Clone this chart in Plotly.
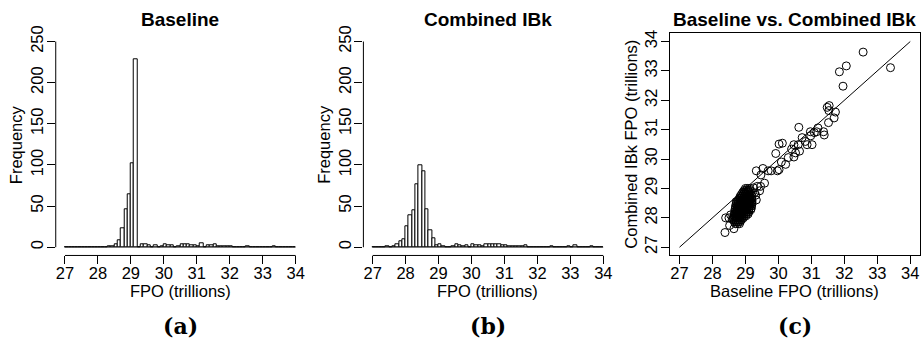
import plotly.graph_objects as go

# ---------------- data ----------------
bin_start = 27.0
bin_width = 0.1

# Baseline histogram counts, bins 27.0-27.1 ... 33.9-34.0
baseline_counts = [
    0, 0, 0, 0, 0, 0, 0, 0, 0, 0,        # 27.0 - 28.0
    0, 0, 0, 1, 1, 3, 8, 23, 46, 64,     # 28.0 - 29.0
    102, 228, 0, 4, 3, 2, 0, 2, 0, 1,    # 29.0 - 30.0
    4, 2, 2, 0, 1, 4, 3, 3, 2, 2,        # 30.0 - 31.0
    1, 5, 0, 2, 2, 3, 1, 1, 1, 1,        # 31.0 - 32.0
    1, 0, 0, 0, 0, 1, 0, 0, 0, 0,        # 32.0 - 33.0
    0, 0, 0, 1, 0, 0, 0, 0, 0, 0,        # 33.0 - 34.0
]

# Combined IBk histogram counts, same bins
combined_counts = [
    0, 0, 0, 0, 1, 0, 1, 3, 7, 10,       # 27.0 - 28.0
    26, 39, 45, 77, 100, 92, 46, 21, 11, 2,  # 28.0 - 29.0
    3, 1, 0, 0, 1, 4, 2, 1, 2, 0,        # 29.0 - 30.0
    3, 2, 2, 1, 4, 3, 3, 3, 3, 2,        # 30.0 - 31.0
    2, 1, 1, 1, 1, 1, 2, 0, 0, 0,        # 31.0 - 32.0
    0, 0, 0, 0, 1, 0, 0, 0, 0, 1,        # 32.0 - 33.0
    0, 2, 0, 0, 0, 0, 1, 0, 0, 0,        # 33.0 - 34.0
]

fpo_ticks = [27, 28, 29, 30, 31, 32, 33, 34]
freq_ticks = [0, 50, 100, 150, 200, 250]

# Scatter: scattered points (baseline, combined)
outlier_baseline = [32.57, 33.40, 32.06, 31.85, 31.96, 31.48, 31.54, 31.53, 31.73, 31.69,
                    31.52, 31.39, 31.37, 31.20, 31.16, 31.09, 30.97, 30.98, 31.02, 30.82,
                    30.72, 30.62, 30.87, 30.60, 30.47, 30.52, 30.64, 30.40, 30.47, 30.30,
                    30.22, 30.12, 30.02, 29.92, 30.09, 30.02, 29.97, 29.78, 29.69, 29.53,
                    29.33, 29.47, 29.58, 29.46, 29.36, 29.43, 29.31, 29.33, 28.72, 28.40,
                    28.38, 28.52, 28.65, 28.50, 29.25, 29.28, 28.60, 28.55]
outlier_combined = [33.64, 33.11, 33.17, 32.97, 32.48, 31.76, 31.82, 31.65, 31.60, 31.40,
                    31.24, 30.82, 30.93, 31.06, 30.93, 30.90, 30.93, 30.79, 30.49, 30.60,
                    30.73, 31.08, 30.49, 30.49, 30.49, 30.21, 30.27, 30.34, 30.07, 30.05,
                    29.82, 30.54, 30.51, 30.19, 29.90, 29.64, 29.60, 29.60, 29.60, 29.68,
                    29.60, 29.46, 29.18, 29.07, 29.07, 28.92, 28.77, 28.61, 28.55, 28.00,
                    27.50, 27.74, 27.63, 28.00, 29.02, 28.85, 27.95, 28.10]

# Dense cluster: rows of (combined value, baseline values)
cluster_rows = [
    (27.80, [28.70, 28.76, 28.82]),
    (27.87, [28.66, 28.72, 28.78, 28.84]),
    (27.93, [28.64, 28.70, 28.76, 28.82, 28.88]),
    (28.00, [28.64, 28.70, 28.76, 28.82, 28.88, 28.94]),
    (28.07, [28.66, 28.72, 28.78, 28.84, 28.90, 28.96, 29.02]),
    (28.13, [28.66, 28.72, 28.78, 28.84, 28.90, 28.96, 29.02, 29.08]),
    (28.20, [28.68, 28.74, 28.80, 28.86, 28.92, 28.98, 29.04, 29.10]),
    (28.27, [28.68, 28.74, 28.80, 28.86, 28.92, 28.98, 29.04, 29.10, 29.16]),
    (28.33, [28.70, 28.76, 28.82, 28.88, 28.94, 29.00, 29.06, 29.12, 29.18]),
    (28.40, [28.70, 28.76, 28.82, 28.88, 28.94, 29.00, 29.06, 29.12, 29.18]),
    (28.47, [28.72, 28.78, 28.84, 28.90, 28.96, 29.02, 29.08, 29.14, 29.20]),
    (28.53, [28.74, 28.80, 28.86, 28.92, 28.98, 29.04, 29.10, 29.16, 29.20]),
    (28.60, [28.78, 28.84, 28.90, 28.96, 29.02, 29.08, 29.14, 29.20]),
    (28.67, [28.82, 28.88, 28.94, 29.00, 29.06, 29.12, 29.18]),
    (28.73, [28.84, 28.90, 28.96, 29.02, 29.08, 29.14, 29.20]),
    (28.80, [28.88, 28.94, 29.00, 29.06, 29.12, 29.18]),
    (28.87, [28.92, 28.98, 29.04, 29.10, 29.16]),
    (28.93, [28.96, 29.02, 29.08, 29.14]),
    (29.00, [29.00, 29.06, 29.12]),
]

# ---------------- build ----------------
bin_centers = [bin_start + bin_width * (i + 0.5) for i in range(len(baseline_counts))]

scatter_x = list(outlier_baseline)
scatter_y = list(outlier_combined)
for yv, xs in cluster_rows:
    for xv in xs:
        scatter_x.append(xv)
        scatter_y.append(yv)

W, H = 921, 341
def px_x(p):
    return p / W
def px_y(p):
    return 1 - p / H

dom_a = [px_x(55.8), px_x(305.2)]
dom_b = [px_x(363.8), px_x(613.2)]
dom_c = [px_x(671.0), px_x(920.5)]
dom_y = [px_y(253.4), px_y(25.9)]

FONT = "Liberation Sans, Arial, sans-serif"
TICKFONT = dict(family=FONT, size=16.5, color="black")

fig = go.Figure()

fig.add_trace(go.Bar(x=bin_centers, y=baseline_counts, width=bin_width,
                     marker=dict(color="white", line=dict(color="black", width=1)),
                     xaxis="x", yaxis="y", showlegend=False, hoverinfo="skip"))
fig.add_trace(go.Bar(x=bin_centers, y=combined_counts, width=bin_width,
                     marker=dict(color="white", line=dict(color="black", width=1)),
                     xaxis="x2", yaxis="y2", showlegend=False, hoverinfo="skip"))
fig.add_trace(go.Scatter(x=[fpo_ticks[0], fpo_ticks[-1]], y=[fpo_ticks[0], fpo_ticks[-1]],
                         mode="lines", line=dict(color="black", width=1),
                         xaxis="x3", yaxis="y3", showlegend=False, hoverinfo="skip"))
fig.add_trace(go.Scatter(x=scatter_x, y=scatter_y, mode="markers",
                         marker=dict(symbol="circle-open", size=8,
                                     color="black", line=dict(color="black", width=1)),
                         xaxis="x3", yaxis="y3", showlegend=False, hoverinfo="skip"))

xr = [26.72, 34.28]
yr_hist = [-10, 260]

common = dict(showgrid=False, zeroline=False, ticks="outside", ticklen=8, tickwidth=1,
              tickcolor="black", tickfont=TICKFONT)

layout = dict(
    width=W, height=H, margin=dict(l=0, r=0, t=0, b=0),
    paper_bgcolor="white", plot_bgcolor="white", bargap=0,
    xaxis=dict(domain=dom_a, range=xr, tickvals=fpo_ticks, anchor="y", showline=False,
               ticklabelstandoff=-5, **common),
    yaxis=dict(domain=dom_y, range=yr_hist, tickvals=freq_ticks, anchor="x", tickangle=-90,
               showline=False, ticklabelstandoff=-3, **common),
    xaxis2=dict(domain=dom_b, range=xr, tickvals=fpo_ticks, anchor="y2", showline=False,
                ticklabelstandoff=-5, **common),
    yaxis2=dict(domain=dom_y, range=yr_hist, tickvals=freq_ticks, anchor="x2", tickangle=-90,
                showline=False, ticklabelstandoff=-3, **common),
    xaxis3=dict(domain=dom_c, range=xr, tickvals=fpo_ticks, anchor="y3", showline=True,
                mirror=True, linecolor="black", linewidth=1, ticklabelstandoff=-5, **common),
    yaxis3=dict(domain=dom_y, range=xr, tickvals=fpo_ticks, anchor="x3", tickangle=-90,
                showline=True, mirror=True, linecolor="black", linewidth=1,
                ticklabelstandoff=-2, **common),
)
fig.update_layout(**layout)

shapes = []
for xa, ya in [("x", "y"), ("x2", "y2")]:
    shapes.append(dict(type="line", xref=xa, yref=ya + " domain", x0=fpo_ticks[0], x1=fpo_ticks[-1],
                       y0=0, y1=0, line=dict(color="black", width=1)))
    shapes.append(dict(type="line", xref=xa + " domain", yref=ya, x0=0, x1=0,
                       y0=freq_ticks[0], y1=freq_ticks[-1], line=dict(color="black", width=1)))
    shapes.append(dict(type="line", xref=xa, yref=ya, x0=fpo_ticks[0], x1=fpo_ticks[-1],
                       y0=0, y1=0, layer="below", line=dict(color="#888888", width=1)))
fig.update_layout(shapes=shapes)

titles = ["Baseline", "Combined IBk", "Baseline vs. Combined IBk"]
xlabels = ["FPO (trillions)", "FPO (trillions)", "Baseline FPO (trillions)"]
ylabels = ["Frequency", "Frequency", "Combined IBk FPO (trillions)"]
tags = ["(a)", "(b)", "(c)"]
doms = [dom_a, dom_b, dom_c]
ann = []
for i in range(3):
    cx = (doms[i][0] + doms[i][1]) / 2
    ann.append(dict(text="<b>%s</b>" % titles[i], x=cx, y=px_y(12), xref="paper", yref="paper",
                    xanchor="center", yanchor="middle", showarrow=False,
                    font=dict(family=FONT, size=19, color="black")))
    ann.append(dict(text=xlabels[i], x=cx, y=px_y(290), xref="paper", yref="paper",
                    xanchor="center", yanchor="middle", showarrow=False,
                    font=dict(family=FONT, size=16.5, color="black")))
    ann.append(dict(text=ylabels[i], x=doms[i][0] - px_x(39), y=(dom_y[0] + dom_y[1]) / 2,
                    xref="paper", yref="paper", xanchor="center", yanchor="middle",
                    showarrow=False, textangle=-90,
                    font=dict(family=FONT, size=16.5, color="black")))
    ann.append(dict(text="<b>%s</b>" % tags[i], x=cx, y=px_y(326), xref="paper", yref="paper",
                    xanchor="center", yanchor="middle", showarrow=False,
                    font=dict(family="DejaVu Serif, serif", size=22, color="black")))
fig.update_layout(annotations=ann)

fig.write_html("out.html", config={"displayModeBar": False},
               post_script="document.body.style.margin='0';")
